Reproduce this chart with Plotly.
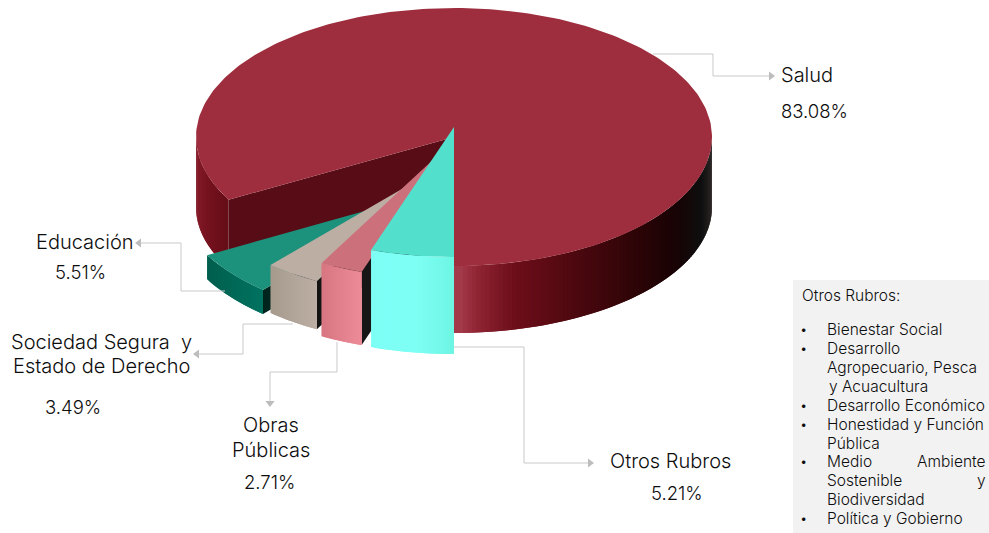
import math
import plotly.graph_objects as go

# ---------- data ----------
categories = ["Salud", "Otros Rubros", "Obras Públicas", "Sociedad Segura y Estado de Derecho", "Educación"]
shares = [83.08, 5.21, 2.71, 3.49, 5.51]
share_labels = ["83.08%", "5.21%", "2.71%", "3.49%", "5.51%"]
otros_title = "Otros Rubros:"
otros_items = ["Bienestar Social", "Desarrollo", "Agropecuario, Pesca", "y Acuacultura",
               "Desarrollo Económico", "Honestidad y Función", "Pública", "Medio", "Ambiente",
               "Sostenible", "y", "Biodiversidad", "Política y Gobierno"]

# ---------- geometry / style ----------
W, H = 989, 533
RX, RY = 258, 129
MAIN_C = (454, 137)
MAIN_DEPTH_C = (454, 207)
MAIN_RY_BOTTOM = 126
TOP_MAIN = "#9e2e3e"
WALL_MAIN = "#580c16"
FONT = "Inter"
TXT = "#0d0d0d"
LINE = "#c9c9c9"
ARROW = "#bdbdbd"

# per-slice: centre of top face, extrusion depth, top colour, side colour, front gradient
small_style = {
    "Educación": dict(c=(432.5, 192), d=24, top="#1c917c", side="#00241e", grad=["#005f4e", "#007461"]),
    "Sociedad Segura y Estado de Derecho": dict(c=(440, 167), d=48, top="#bdaea3", side="#141414", grad=["#a79b8e", "#bdafa4"]),
    "Obras Públicas": dict(c=(444.6, 149), d=73, top="#cc707c", side="#161616", grad=["#d87782", "#ee8c9a"]),
    "Otros Rubros": dict(c=(454, 127), d=97, top="#52e0cc", side="#161616", grad=["#7dfff6", "#7efff5", "#6cf3e1"]),
}
right_stops = [(454, "#a63d4c"), (473, "#8f2433"), (510, "#6d0e1a"), (540, "#5e0b14"), (575, "#4a080e"),
               (640, "#2a0406"), (673, "#180305"), (700, "#0f0f0f"), (712, "#2c2626")]
left_stops = [(196, "#861b29"), (210, "#74121e"), (228, "#670e18")]


def hex2rgb(h):
    return tuple(int(h[i:i + 2], 16) for i in (1, 3, 5))


def color_at(stops, x):
    if x <= stops[0][0]:
        return stops[0][1]
    for (x0, c0), (x1, c1) in zip(stops, stops[1:]):
        if x <= x1:
            t = (x - x0) / (x1 - x0)
            a, b = hex2rgb(c0), hex2rgb(c1)
            return "rgb(%d,%d,%d)" % tuple(round(p + (q - p) * t) for p, q in zip(a, b))
    return stops[-1][1]


def pt(c, ang, ry=RY, rx=RX):
    """ang in degrees, clockwise from straight down (towards viewer)."""
    r = math.radians(ang)
    return c[0] - rx * math.sin(r), c[1] + ry * math.cos(r)


fig = go.Figure()


def poly(xs, ys, color):
    fig.add_trace(go.Scatter(x=list(xs), y=list(ys), mode="lines", fill="toself", fillcolor=color,
                             line=dict(color=color, width=0), hoverinfo="skip", showlegend=False))


def polyline(xs, ys, marker=None):
    fig.add_trace(go.Scatter(x=xs, y=ys, mode="lines", line=dict(color=LINE, width=1),
                             hoverinfo="skip", showlegend=False))
    if marker:
        fig.add_trace(go.Scatter(x=[xs[-1]], y=[ys[-1]], mode="markers",
                                 marker=dict(symbol=marker, size=8, color=ARROW, line=dict(width=0)),
                                 hoverinfo="skip", showlegend=False))


def strips(a0, a1, c_top, c_bot, stops, ry_top=RY, ry_bot=MAIN_RY_BOTTOM, n=60):
    step = (a1 - a0) / n
    # painted from the far end back to the start, each strip overlapping the next one to avoid seams
    for i in range(n - 1, -1, -1):
        s0 = a0 + step * i
        s_mid = s0 + step
        s1 = min(s0 + 2 * step, a1) if step > 0 else max(s0 + 2 * step, a1)
        angs = [s0, s_mid, s1]
        t = [pt(c_top, s, ry_top) for s in angs]
        b = [pt(c_bot, s, ry_bot) for s in angs]
        col = color_at(stops, (t[0][0] + t[1][0]) / 2)
        ring = t + b[::-1] + [t[0]]
        poly([p[0] for p in ring], [p[1] for p in ring], col)


# ---------- angles from the data ----------
deg = [v / sum(shares) * 360 for v in shares]
main_gap = 360 - deg[0]          # angular size of the exploded group

# leader lines that run behind the pie
polyline([653, 713, 713, 771], [54, 54, 76, 76], "triangle-right")
polyline([454, 524, 524, 590], [347, 347, 463, 463], "triangle-right")
polyline([293, 243, 243, 197], [324, 324, 354, 354], "triangle-left")
polyline([337, 337, 270, 270], [342, 372, 372, 403], "triangle-down")

# main slice sides
strips(0, -90, MAIN_C, MAIN_DEPTH_C, right_stops, n=90)
strips(main_gap, 90, MAIN_C, MAIN_DEPTH_C, left_stops, n=30)

# main slice cut wall
corner_t = pt(MAIN_C, main_gap)
corner_b = pt(MAIN_DEPTH_C, main_gap, MAIN_RY_BOTTOM)
poly([corner_t[0], MAIN_C[0], MAIN_DEPTH_C[0], corner_b[0], corner_t[0]],
     [corner_t[1], MAIN_C[1], MAIN_DEPTH_C[1], corner_b[1], corner_t[1]], WALL_MAIN)

# main slice top face
arc = [pt(MAIN_C, main_gap + deg[0] * k / 240) for k in range(241)]
poly([MAIN_C[0]] + [p[0] for p in arc] + [MAIN_C[0]], [MAIN_C[1]] + [p[1] for p in arc] + [MAIN_C[1]], TOP_MAIN)

# exploded slices: drawn from the back (Educación) to the front (Otros Rubros)
starts = {}
acc = 0
for name, v in zip(categories[1:], deg[1:]):
    starts[name] = (acc, acc + v)
    acc += v

for name in reversed(categories[1:]):
    st = small_style[name]
    a0, a1 = starts[name]
    c, d = st["c"], st["d"]
    c_bot = (c[0], c[1] + d)
    # side wall facing right (black edge)
    p0 = pt(c, a0, RY + 1)
    poly([p0[0], c[0], c[0], p0[0], p0[0]], [p0[1], c[1], c[1] + d, p0[1] + d, p0[1]], st["side"])
    # front gradient
    g = st["grad"]
    x_l, x_r = pt(c, a1)[0], p0[0]
    stops = [(x_l + (x_r - x_l) * i / (len(g) - 1), col) for i, col in enumerate(g)]
    strips(a1, a0, c, c_bot, stops, RY + 1, RY + 1, n=24)
    # top face
    arc = [pt(c, a0 + (a1 - a0) * k / 30, RY + 1) for k in range(31)]
    poly([c[0]] + [p[0] for p in arc] + [c[0]], [c[1]] + [p[1] for p in arc] + [c[1]], st["top"])

# leader line that sits on top of the Educación slice
polyline([225, 181, 181, 139], [291, 291, 243, 243], "triangle-left")

# ---------- text ----------
ann = []


def text(s, x, y, size, anchor="center", weight=300):
    ann.append(dict(text=s, x=x, y=y, xref="x", yref="y", showarrow=False, xanchor=anchor, yanchor="middle",
                    borderpad=0, font=dict(family=FONT, size=size, color=TXT, weight=weight)))


SZ = 20
PCT = 18.5
text(categories[0], 806.5, 75, SZ)
text(share_labels[0], 814.5, 111, PCT)
text(categories[4], 84.5, 242, SZ)
text(share_labels[4], 80.5, 272, PCT)
text("Sociedad Segura  y", 101.5, 342, SZ)
text("Estado de Derecho", 101, 366, SZ)
text(share_labels[3], 73, 407, PCT)
text("Obras", 270.5, 425, SZ)
text("Públicas", 271, 450, SZ)
text(share_labels[2], 269, 482, PCT)
text(categories[1], 670, 461, SZ)
text(share_labels[1], 676.5, 493, PCT)

BOX = 15.5
text(otros_title, 801, 295, BOX, "left")
rows = [329, 348, 367, 386, 405, 424, 443, 461, 461, 480, 480, 499, 518]
xs_left = [826, 826, 826, 828, 826, 826, 826, 826, None, 826, None, 826, 826]
for s, y, x in zip(otros_items, rows, xs_left):
    if x is None:
        text(s, 987, y, BOX, "right")
    else:
        text(s, x, y, BOX, "left")
for y in [329, 348, 405, 424, 461, 518]:
    text("•", 803, y, 13)

fig.update_layout(
    width=W, height=H, autosize=False, margin=dict(l=0, r=0, t=0, b=0),
    paper_bgcolor="white", plot_bgcolor="white", showlegend=False, annotations=ann,
    xaxis=dict(range=[0, W], visible=False, fixedrange=True),
    yaxis=dict(range=[H, 0], visible=False, fixedrange=True),
    shapes=[dict(type="rect", xref="x", yref="y", x0=793, x1=W, y0=280, y1=H, fillcolor="#f2f2f2",
                 line=dict(width=0), layer="below")],
)
fig.write_html("out.html", config=dict(displayModeBar=False),
               post_script="document.body.style.margin='0';")
